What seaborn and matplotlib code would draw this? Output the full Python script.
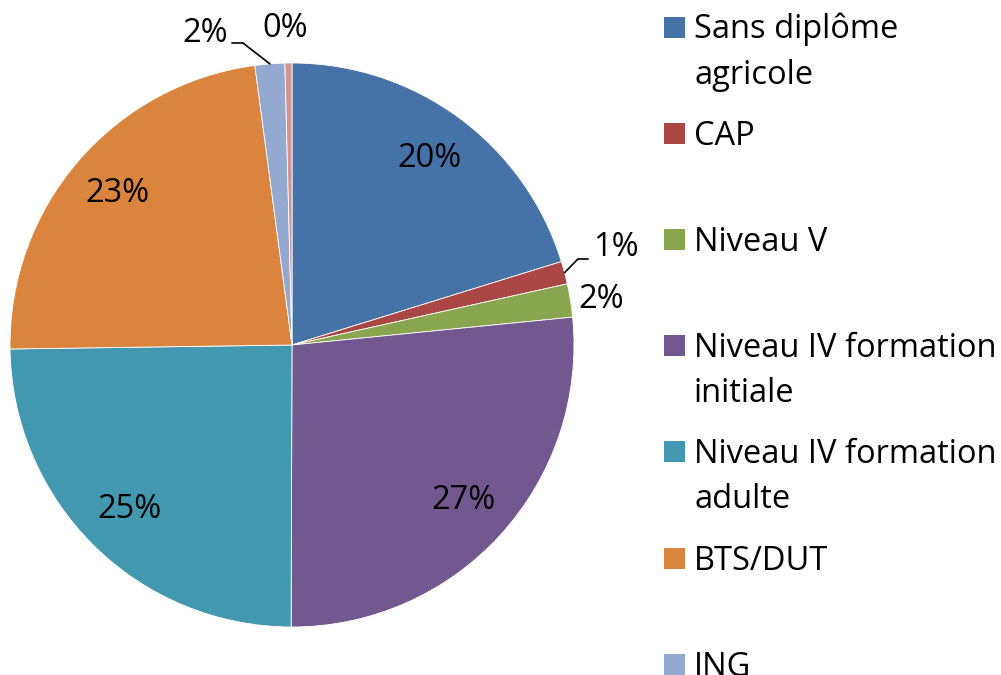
import numpy as np
import seaborn as sns
import matplotlib.pyplot as plt

# Données du graphique (parts en %)
categories = ['Sans diplôme\nagricole', 'CAP', 'Niveau V',
              'Niveau IV formation\ninitiale', 'Niveau IV formation\nadulte',
              'BTS/DUT', 'ING', 'Autre']
values = [20.2, 1.3, 1.9, 26.6, 24.7, 23.1, 1.7, 0.4]
colors = ['#4572A7', '#AA4643', '#89A54E', '#71588F',
          '#4198AF', '#DB843D', '#93A9CF', '#D19392']

sns.set_theme(style='white')
plt.rcParams['font.family'] = ['Open Sans', 'DejaVu Sans']
FS = 23.5

W, H = 1001, 675
fig = plt.figure(figsize=(W / 100, H / 100), dpi=100)

# pie: centre (292, 345) px, rayon 282 px
cx, cy, R = 292, 345, 282
ax = fig.add_axes([(cx - R) / W, (H - cy - R) / H, 2 * R / W, 2 * R / H])
wedges, texts, autotexts = ax.pie(values, colors=colors, startangle=90, counterclock=False,
                                  autopct='%1.0f%%', pctdistance=0.82,
                                  wedgeprops=dict(linewidth=0.6, edgecolor='white'),
                                  textprops=dict(fontsize=FS, color='black'))
ax.set_xlim(-1, 1)
ax.set_ylim(-1, 1)

# étiquettes des petites parts, placées à l'extérieur comme dans Excel
outside = {
    1: dict(text=(1.149, 0.344), elbow=(1.014, 0.305), end=(1.050, 0.305)),
    2: dict(text=(1.096, 0.160)),
    6: dict(text=(-0.309, 1.106), elbow=(-0.174, 1.071), end=(-0.213, 1.071)),
    7: dict(text=(-0.025, 1.124)),
}
for i, opt in outside.items():
    autotexts[i].set_position(opt['text'])
    autotexts[i].set_va('center')
    autotexts[i].set_ha('center')
    if 'elbow' in opt:
        w = wedges[i]
        mid = np.deg2rad((w.theta1 + w.theta2) / 2)
        p0 = (np.cos(mid), np.sin(mid))
        ax.plot([p0[0], opt['elbow'][0], opt['end'][0]],
                [p0[1], opt['elbow'][1], opt['end'][1]],
                color='black', lw=1.2, clip_on=False)

# légende manuelle (espacement constant comme l'original)
step = 106.2
for i, (lab, col) in enumerate(zip(categories, colors)):
    ym = 27 + step * i
    fig.patches.append(plt.Rectangle((664 / W, 1 - (ym + 10.5) / H), 21 / W, 21 / H,
                                     transform=fig.transFigure, facecolor=col,
                                     edgecolor='none'))
    for k, line in enumerate(lab.split('\n')):
        fig.text(694 / W, 1 - (ym + 11.5 + 45 * k) / H, line, fontsize=FS,
                 ha='left', va='baseline', color='black')

fig.savefig('out.png', dpi=100)
